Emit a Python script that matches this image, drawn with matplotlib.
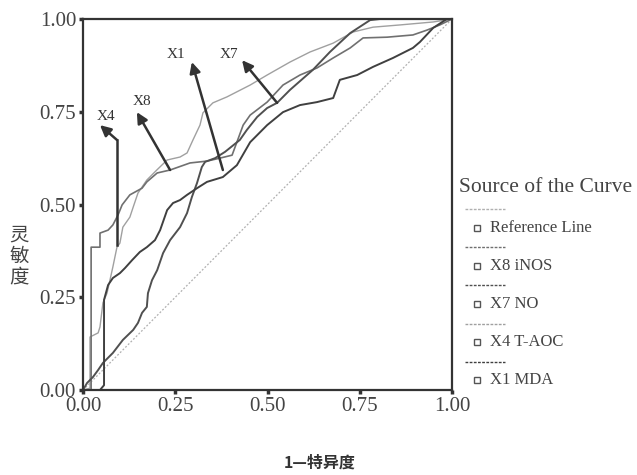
import matplotlib
matplotlib.use("Agg")
import matplotlib.pyplot as plt
from matplotlib.lines import Line2D

plt.rcParams['font.family'] = ['Liberation Serif', 'DejaVu Serif']

# ROC curves (1-specificity, sensitivity)
x4_fpr = [0, 0.019, 0.019, 0.041, 0.046, 0.054, 0.065, 0.073, 0.081, 0.092, 0.100, 0.108,
          0.127, 0.136, 0.149, 0.173, 0.200, 0.228, 0.263, 0.282, 0.298, 0.317, 0.325,
          0.352, 0.390, 0.453, 0.499, 0.561, 0.615, 0.678, 0.732, 0.786, 0.859, 0.949, 1.0]
x4_tpr = [0, 0.005, 0.143, 0.154, 0.170, 0.235, 0.261, 0.296, 0.332, 0.385, 0.396, 0.439,
          0.466, 0.493, 0.531, 0.566, 0.593, 0.620, 0.628, 0.639, 0.674, 0.714, 0.747,
          0.774, 0.790, 0.822, 0.849, 0.884, 0.911, 0.935, 0.965, 0.978, 0.984, 0.992, 1.0]

x8_fpr = [0, 0.022, 0.022, 0.046, 0.046, 0.068, 0.081, 0.095, 0.106, 0.127, 0.160, 0.173,
          0.201, 0.236, 0.290, 0.336, 0.371, 0.404, 0.434, 0.453, 0.499, 0.542, 0.588,
          0.634, 0.678, 0.724, 0.759, 0.824, 0.894, 0.932, 0.967, 1.0]
x8_tpr = [0, 0, 0.385, 0.385, 0.423, 0.431, 0.445, 0.472, 0.499, 0.526, 0.544, 0.561,
          0.585, 0.593, 0.612, 0.617, 0.625, 0.633, 0.714, 0.741, 0.776, 0.822, 0.849,
          0.868, 0.895, 0.922, 0.949, 0.951, 0.957, 0.970, 0.984, 1.0]

x7_fpr = [0, 0.011, 0.027, 0.041, 0.054, 0.081, 0.108, 0.136, 0.149, 0.160, 0.173, 0.176,
          0.187, 0.201, 0.217, 0.236, 0.263, 0.282, 0.295, 0.309, 0.322, 0.331, 0.358,
          0.385, 0.425, 0.444, 0.472, 0.499, 0.526, 0.561, 0.623, 0.669, 0.724, 0.778,
          0.805, 1.0]
x7_tpr = [0, 0.019, 0.035, 0.054, 0.073, 0.100, 0.135, 0.162, 0.181, 0.208, 0.224, 0.261,
          0.296, 0.323, 0.369, 0.404, 0.439, 0.477, 0.520, 0.558, 0.601, 0.615, 0.625,
          0.642, 0.674, 0.701, 0.736, 0.760, 0.774, 0.809, 0.863, 0.911, 0.962, 0.997,
          1.0, 1.0]

x1_fpr = [0, 0.046, 0.057, 0.057, 0.068, 0.081, 0.100, 0.114, 0.133, 0.154, 0.173, 0.195,
          0.209, 0.228, 0.244, 0.263, 0.282, 0.309, 0.336, 0.379, 0.417, 0.453, 0.499,
          0.542, 0.588, 0.634, 0.678, 0.696, 0.743, 0.786, 0.840, 0.894, 0.913, 0.949,
          0.986, 1.0]
x1_tpr = [0, 0, 0.013, 0.243, 0.283, 0.302, 0.315, 0.329, 0.350, 0.372, 0.385, 0.404,
          0.431, 0.485, 0.504, 0.512, 0.526, 0.544, 0.561, 0.574, 0.606, 0.668, 0.714,
          0.749, 0.768, 0.776, 0.787, 0.836, 0.849, 0.871, 0.895, 0.922, 0.938, 0.976,
          1.0, 1.0]

ticks = [0.0, 0.25, 0.5, 0.75, 1.0]
tick_labels = ["0.00", "0.25", "0.50", "0.75", "1.00"]

# arrow labels: text, label position, arrow tip, arrow tail
arrows = [
    ("X4", (0.062, 0.738), (0.046, 0.714), (0.092, 0.674)),
    ("X8", (0.160, 0.778), (0.146, 0.749), (0.236, 0.593)),
    ("X1", (0.252, 0.905), (0.295, 0.884), (0.379, 0.593)),
    ("X7", (0.396, 0.905), (0.431, 0.889), (0.526, 0.774)),
]
x4_stem = ([0.092, 0.092], [0.391, 0.674])

legend_items = ["Reference Line", "X8 iNOS", "X7 NO", "X4 T-AOC", "X1 MDA"]
legend_colors = ["#b0b0b0", "#707070", "#505050", "#a0a0a0", "#404040"]

fig = plt.figure(figsize=(6.37, 4.75), dpi=100)
ax = fig.add_axes([0.1303, 0.1789, 0.5793, 0.7811])

ax.plot([0, 1], [0, 1], color="#b0b0b0", lw=0.9, ls=(0, (1.5, 1.5)))
ax.plot(x4_fpr, x4_tpr, color="#a0a0a0", lw=1.0)
ax.plot(x8_fpr, x8_tpr, color="#707070", lw=1.2)
ax.plot(x7_fpr, x7_tpr, color="#505050", lw=1.4)
ax.plot(x1_fpr, x1_tpr, color="#404040", lw=1.4)

ax.plot(x4_stem[0], x4_stem[1], color="#333333", lw=1.8)
for name, lab, tip, tail in arrows:
    ax.annotate("", xy=tip, xytext=tail,
                arrowprops=dict(arrowstyle="-|>", color="#333333", lw=1.8,
                                mutation_scale=16, shrinkA=0, shrinkB=0))
    ax.text(lab[0], lab[1], name, ha="center", va="center", fontsize=11, color="#333333")

ax.set_xlim(0, 1)
ax.set_ylim(0, 1)
ax.set_xticks(ticks)
ax.set_xticklabels(tick_labels)
ax.set_yticks(ticks)
ax.set_yticklabels(tick_labels)
ax.tick_params(direction="out", length=3, width=2.5, labelsize=15, colors="#333333",
               labelcolor="#444444", pad=2)
for s in ax.spines.values():
    s.set_linewidth(1.6)
    s.set_color("#333333")

# y label stacked vertically
fig.text(19 / 637, 1 - 256 / 475, "灵\n敏\n度", ha="center", va="center", fontsize=14,
         color="#444444", family=["Noto Sans CJK SC"], linespacing=1.0)
fig.text(320 / 637, 1 - 463 / 475, "1—特异度", ha="center", va="center", fontsize=11.5,
         color="#333333", family=["Noto Sans CJK SC"], weight="bold")

# legend drawn by hand, like the SPSS one
fig.text(459 / 637, 1 - 187 / 475, "Source of the Curve", ha="left", va="center",
         fontsize=15.5, color="#444444")
for i, name in enumerate(legend_items):
    ly = 209 + i * 38.2
    ty = 228 + i * 38
    fig.add_artist(Line2D([465 / 637, 505 / 637], [1 - ly / 475, 1 - ly / 475],
                          color=legend_colors[i], lw=1.0, ls=(0, (2, 1))))
    fig.add_artist(Line2D([477 / 637], [1 - ty / 475], marker="s", markersize=4,
                          markerfacecolor="none", markeredgecolor="#555555",
                          markeredgewidth=1.0, ls="none"))
    fig.text(490 / 637, 1 - ty / 475, name, ha="left", va="center", fontsize=12,
             color="#444444")

fig.savefig("out.png", dpi=100)
